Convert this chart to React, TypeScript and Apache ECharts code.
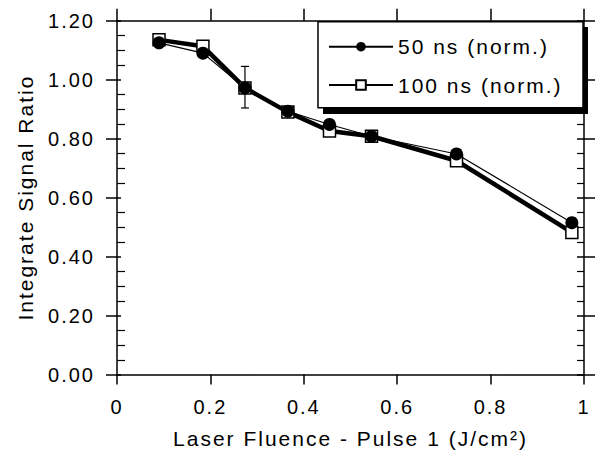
import React, { useEffect, useRef } from 'react';
import * as echarts from 'echarts';

// ---- data ----
const fluence = [0.09, 0.184, 0.274, 0.366, 0.455, 0.545, 0.727, 0.974];
const ratio50 = [1.125, 1.09, 0.972, 0.893, 0.848, 0.808, 0.748, 0.515];
const ratio100 = [1.135, 1.113, 0.972, 0.89, 0.826, 0.808, 0.725, 0.482];
const errX = [0.274];
const errLow = [0.904];
const errHigh = [1.045];
const seriesNames = ['50 ns (norm.)', '100 ns (norm.)'];
const xTitle = 'Laser Fluence - Pulse 1 (J/cm²)';
const yTitle = 'Integrate Signal Ratio';

const FONT = '"Liberation Sans", Arial, Helvetica, sans-serif';
const AXIS_LINE = { color: '#000', width: 1.5 };

export default function App() {
  const ref = useRef<HTMLDivElement>(null);

  useEffect(() => {
    if (!ref.current) return;
    const chart = echarts.init(ref.current, undefined, { renderer: 'svg' });

    const xBase = { type: 'value', min: 0, max: 1, interval: 0.2, splitLine: { show: false } };
    const yBase = { type: 'value', min: 0, max: 1.2, interval: 0.2, splitLine: { show: false } };

    const option: any = {
      animation: false,
      backgroundColor: '#fff',
      grid: { left: 117, right: 11, top: 20.7, bottom: 81.5, containLabel: false, outerBoundsMode: 'none' },
      xAxis: [
        {
          ...xBase,
          position: 'bottom',
          axisLine: { show: true, onZero: false, lineStyle: AXIS_LINE },
          axisTick: { show: true, inside: false, length: 10, lineStyle: AXIS_LINE },
          axisLabel: {
            show: true, margin: 22, fontSize: 20, color: '#000', fontFamily: FONT,
            formatter: (v: number) => String(+v.toFixed(1)),
          },
          name: xTitle,
          nameLocation: 'middle',
          nameGap: 53,
          nameTextStyle: { fontSize: 21, color: '#000', fontFamily: FONT },
        },
        {
          ...xBase,
          position: 'top',
          axisLine: { show: true, onZero: false, lineStyle: AXIS_LINE },
          axisTick: { show: true, inside: false, length: 12, lineStyle: AXIS_LINE },
          axisLabel: { show: false },
        },
      ],
      yAxis: [
        {
          ...yBase,
          position: 'left',
          axisLine: { show: true, onZero: false, lineStyle: AXIS_LINE },
          axisTick: { show: true, inside: false, length: 11, lineStyle: AXIS_LINE },
          axisLabel: {
            show: true, margin: 22, fontSize: 20, color: '#000', fontFamily: FONT,
            formatter: (v: number) => v.toFixed(2),
          },
          name: yTitle,
          nameLocation: 'middle',
          nameGap: 81,
          nameTextStyle: { fontSize: 21, color: '#000', fontFamily: FONT },
        },
        {
          ...yBase,
          position: 'left',
          axisLine: { show: false, onZero: false },
          axisTick: { show: true, inside: true, length: 4, lineStyle: AXIS_LINE },
          minorTick: { show: true, splitNumber: 4, length: 8, lineStyle: { color: '#000', width: 1.2 } },
          axisLabel: { show: false },
        },
        {
          ...yBase,
          position: 'right',
          axisLine: { show: true, onZero: false, lineStyle: AXIS_LINE },
          axisTick: { show: true, inside: false, length: 11, lineStyle: AXIS_LINE },
          axisLabel: { show: false },
        },
        {
          ...yBase,
          position: 'right',
          axisLine: { show: false, onZero: false },
          axisTick: { show: true, inside: true, length: 7, lineStyle: AXIS_LINE },
          minorTick: { show: true, splitNumber: 4, length: 7, lineStyle: { color: '#000', width: 1.2 } },
          axisLabel: { show: false },
        },
      ],
      legend: {
        data: seriesNames,
        orient: 'vertical',
        left: 328,
        top: 36.2,
        itemWidth: 64,
        itemHeight: 12,
        itemGap: 17.3,
        padding: 0,
        selectedMode: false,
        z: 10,
        textStyle: { fontSize: 21, fontFamily: FONT, color: '#000' },
      },
      graphic: [
        { type: 'rect', z: 5, shape: { x: 323, y: 27, width: 265, height: 87 }, style: { fill: '#000' } },
        {
          type: 'rect', z: 6, shape: { x: 318, y: 21.7, width: 265, height: 86 },
          style: { fill: '#fff', stroke: '#000', lineWidth: 1.5 },
        },
      ],
      series: [
        {
          name: seriesNames[1],
          type: 'line',
          xAxisIndex: 0,
          yAxisIndex: 0,
          data: fluence.map((x, i) => [x, ratio100[i]]),
          symbol: 'rect',
          symbolSize: 12,
          lineStyle: { color: '#000', width: 4.5 },
          itemStyle: { color: '#fff', borderColor: '#000', borderWidth: 1.5 },
          z: 2,
        },
        {
          name: seriesNames[0],
          type: 'line',
          xAxisIndex: 0,
          yAxisIndex: 0,
          data: fluence.map((x, i) => [x, ratio50[i]]),
          symbol: 'circle',
          symbolSize: 13,
          lineStyle: { color: '#000', width: 1.2 },
          itemStyle: { color: '#000', borderColor: '#000', borderWidth: 0 },
          z: 3,
        },
        {
          name: 'error',
          type: 'custom',
          xAxisIndex: 0,
          yAxisIndex: 0,
          z: 4,
          encode: { x: 0, y: [1, 2] },
          data: errX.map((x, i) => [x, errLow[i], errHigh[i]]),
          renderItem: (params: any, api: any) => {
            const x = api.value(0);
            const lo = api.coord([x, api.value(1)]);
            const hi = api.coord([x, api.value(2)]);
            const hw = 4;
            const st = { stroke: '#000', lineWidth: 1.2 };
            return {
              type: 'group',
              children: [
                { type: 'line', shape: { x1: lo[0], y1: lo[1], x2: hi[0], y2: hi[1] }, style: st },
                { type: 'line', shape: { x1: lo[0] - hw, y1: lo[1], x2: lo[0] + hw, y2: lo[1] }, style: st },
                { type: 'line', shape: { x1: hi[0] - hw, y1: hi[1], x2: hi[0] + hw, y2: hi[1] }, style: st },
              ],
            };
          },
        },
      ],
    };

    chart.setOption(option);
    return () => chart.dispose();
  }, []);

  return (
    <>
      <style>{`#chart-host svg text { letter-spacing: 2px; }`}</style>
      <div
        id="chart-host"
        ref={ref}
        style={{ position: 'fixed', left: 0, top: 0, width: 595, height: 456, background: '#fff' }}
      />
    </>
  );
}
